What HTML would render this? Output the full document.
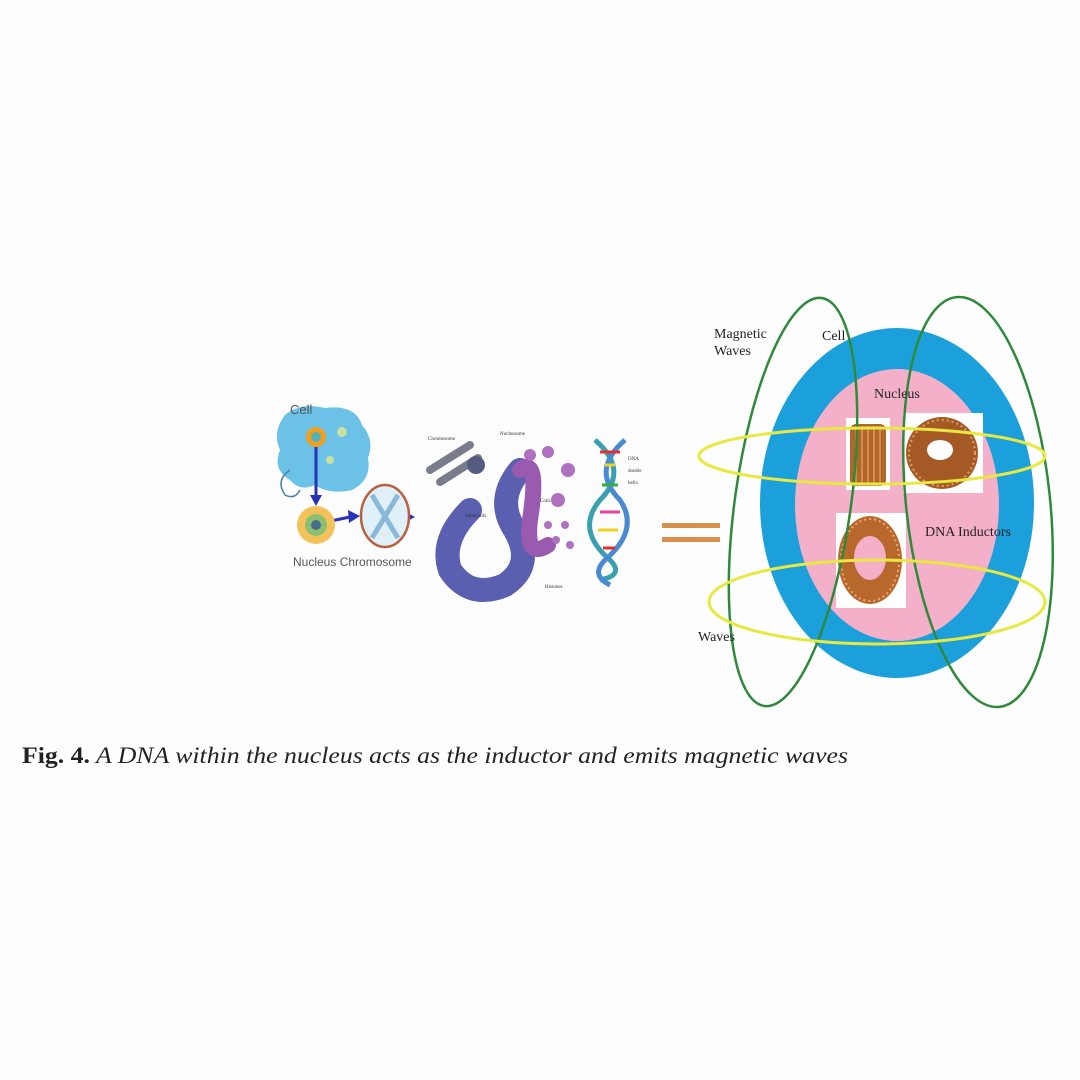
<!DOCTYPE html>
<html><head><meta charset="utf-8"><style>
html,body{margin:0;padding:0;background:#fff;width:1080px;height:1080px;overflow:hidden}
svg{display:block}
text{font-family:"Liberation Serif",serif}
</style></head><body>
<svg width="1080" height="1080" viewBox="0 0 1080 1080">
<rect width="1080" height="1080" fill="#fefefe"/>
<rect x="250" y="295" width="440" height="410" fill="#fcfdfc"/>

<g>
<path d="M285,415 Q300,402 325,408 Q355,404 362,425 Q375,440 368,458 Q372,480 352,490 Q330,495 315,485 Q300,492 290,480 Q272,470 280,450 Q272,432 285,415Z" fill="#6cc2e6"/>
<path d="M290,470 Q275,480 285,495 Q295,500 300,490" fill="none" stroke="#4a7fa5" stroke-width="1.5"/>
<circle cx="316" cy="437" r="10" fill="#f0a020"/><circle cx="316" cy="437" r="5" fill="#58b0b8"/>
<circle cx="342" cy="432" r="5" fill="#c8e0a0"/><circle cx="330" cy="460" r="4" fill="#c8e0a0"/>
<text x="290" y="414" font-size="13" fill="#555" style="font-family:'Liberation Sans',sans-serif">Cell</text>
</g>
<g stroke="#2633b8" stroke-width="3" fill="#2633b8">
<line x1="316" y1="447" x2="316" y2="498"/><path d="M310,495 L322,495 L316,506Z" stroke="none"/>
<line x1="326" y1="522" x2="350" y2="517"/><path d="M348,510 L360,516 L349,523Z" stroke="none"/>
<line x1="390" y1="517" x2="405" y2="517"/><path d="M404,511 L415,517 L404,523Z" stroke="none"/>
</g>
<g>
<circle cx="316" cy="525" r="19" fill="#f3c25a"/><circle cx="316" cy="525" r="11" fill="#8cc070"/><circle cx="316" cy="525" r="5" fill="#4a6c8c"/>
</g>
<g>
<ellipse cx="385" cy="516" rx="24" ry="31" fill="#dff0f8" stroke="#b86040" stroke-width="2.5"/>
<path d="M372,495 L398,538 M398,495 L372,538" stroke="#8ab8d8" stroke-width="5"/>
</g>
<text x="293" y="566" font-size="12" fill="#555" style="font-family:'Liberation Sans',sans-serif">Nucleus  Chromosome</text>

<g>
<path d="M430,470 L470,445 M440,482 L478,458" stroke="#7a7c8c" stroke-width="8" stroke-linecap="round"/>
<circle cx="476" cy="465" r="9" fill="#555c80"/>
<path d="M470,510 Q440,540 450,570 Q470,600 505,585 Q535,565 515,530 Q495,500 520,470" fill="none" stroke="#5a5fb0" stroke-width="24" stroke-linecap="round"/>
<path d="M520,470 Q540,455 530,520 Q525,560 548,545" fill="none" stroke="#9a5ab0" stroke-width="16" stroke-linecap="round"/>
<g fill="#b070c0"><circle cx="530" cy="455" r="6"/><circle cx="548" cy="452" r="6"/><circle cx="568" cy="470" r="7"/><circle cx="558" cy="500" r="7"/><circle cx="548" cy="525" r="4"/><circle cx="565" cy="525" r="4"/><circle cx="556" cy="540" r="4"/><circle cx="570" cy="545" r="4"/></g>
<g font-size="5" fill="#333" style="font-family:'Liberation Sans',sans-serif"><text x="428" y="440">Chromosome</text><text x="500" y="435">Nucleosome</text><text x="465" y="517">Supercoils</text><text x="540" y="502">Coils</text><text x="545" y="588">Histones</text><text x="628" y="460">DNA</text><text x="628" y="472">double</text><text x="628" y="484">helix</text></g>
</g>
<g>
<path d="M595,440 Q630,470 600,500 Q575,530 610,560 Q625,575 600,580" fill="none" stroke="#3aa0b0" stroke-width="5"/>
<path d="M625,440 Q590,470 620,500 Q640,530 605,560 Q590,575 610,585" fill="none" stroke="#4a8ad0" stroke-width="5"/>
<g stroke-width="3"><line x1="600" y1="452" x2="620" y2="452" stroke="#e03030"/><line x1="605" y1="465" x2="615" y2="465" stroke="#f0d020"/><line x1="602" y1="485" x2="618" y2="485" stroke="#30b040"/><line x1="600" y1="512" x2="620" y2="512" stroke="#e040a0"/><line x1="598" y1="530" x2="618" y2="530" stroke="#f0d020"/><line x1="603" y1="548" x2="615" y2="548" stroke="#e03030"/></g>
</g>

<g fill="#d8904a">
<rect x="662" y="523" width="58" height="5"/><rect x="662" y="537" width="58" height="5"/>
</g>

<g>
<ellipse cx="897" cy="503" rx="137" ry="175" fill="#1ba0dc"/>
<ellipse cx="897" cy="505" rx="102" ry="136" fill="#f4b0c8"/>
<g>
<rect x="846" y="418" width="44" height="72" fill="#fff"/>
<rect x="850" y="424" width="36" height="62" rx="6" fill="#b0652a"/>
<g stroke="#e09a58" stroke-width="1.5"><line x1="856" y1="426" x2="856" y2="484"/><line x1="862" y1="426" x2="862" y2="484"/><line x1="868" y1="426" x2="868" y2="484"/><line x1="874" y1="426" x2="874" y2="484"/><line x1="880" y1="426" x2="880" y2="484"/></g>
</g>
<g>
<rect x="903" y="413" width="80" height="80" fill="#fff"/>
<circle cx="942" cy="453" r="36" fill="#a55a25"/><circle cx="942" cy="453" r="33" fill="none" stroke="#e0a060" stroke-width="2" stroke-dasharray="2 3"/>
<ellipse cx="940" cy="450" rx="13" ry="10" fill="#fff"/>
</g>
<g>
<rect x="836" y="513" width="70" height="95" fill="#fff"/>
<ellipse cx="870" cy="560" rx="32" ry="44" fill="#b8682c"/><ellipse cx="870" cy="560" rx="29" ry="41" fill="none" stroke="#e8a870" stroke-width="2" stroke-dasharray="2 3"/>
<ellipse cx="870" cy="558" rx="16" ry="22" fill="#f4b0c8"/>
</g>
<g fill="none" stroke="#2e8a3a" stroke-width="2.5">
<ellipse cx="793" cy="502" rx="58" ry="206" transform="rotate(8 793 502)"/>
<ellipse cx="978" cy="502" rx="72" ry="206" transform="rotate(-6 978 502)"/>
</g>
<g fill="none" stroke="#e8e840" stroke-width="3">
<ellipse cx="872" cy="456" rx="173" ry="28"/>
<ellipse cx="877" cy="602" rx="168" ry="42"/>
</g>
<g font-size="14" fill="#222">
<text x="714" y="338">Magnetic</text>
<text x="714" y="355">Waves</text>
<text x="822" y="340">Cell</text>
<text x="874" y="398">Nucleus</text>
<text x="925" y="536">DNA Inductors</text>
<text x="698" y="641">Waves</text>
</g>
</g>

<text x="22" y="763" font-size="23" fill="#222" textLength="826" lengthAdjust="spacingAndGlyphs"><tspan font-weight="bold">Fig. 4.</tspan><tspan font-style="italic"> A DNA within the nucleus acts as the inductor and emits magnetic waves</tspan></text>
</svg>
</body></html>
